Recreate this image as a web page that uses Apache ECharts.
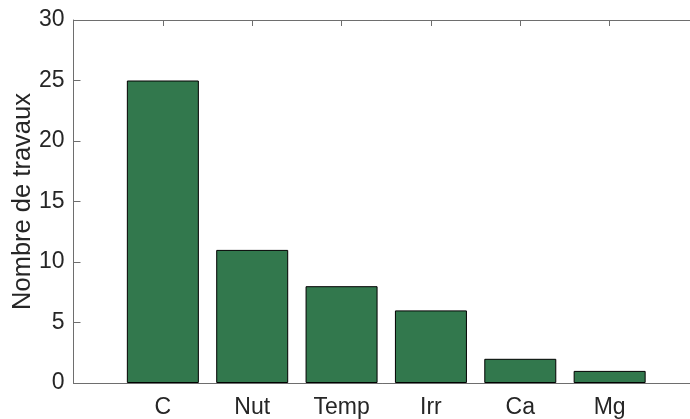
<!DOCTYPE html>
<html>
<head>
<meta charset="utf-8">
<script src="https://cdn.jsdelivr.net/npm/echarts@6/dist/echarts.min.js"></script>
<style>html,body{margin:0;padding:0;background:#fff}#c{width:690px;height:419px}</style>
</head>
<body>
<div id="c"></div>
<script>
var categories = ["C", "Nut", "Temp", "Irr", "Ca", "Mg"];
var values = [25, 11, 8, 6, 2, 1];
var yTicks = [0, 5, 10, 15, 20, 25, 30];
var yName = "Nombre de travaux";

var padded = [""].concat(categories).concat([""]);
var paddedVals = ["-"].concat(values).concat(["-"]);
var font = "Liberation Sans, Arial, sans-serif";
var axisCol = "#6e6e6e";
var textCol = "#262626";

var chart = echarts.init(document.getElementById('c'));
chart.setOption({
  animation: false,
  grid: {left: 73.5, top: 20, width: 625.5, height: 363, containLabel: false, outerBoundsMode: 'none'},
  xAxis: [{
    type: 'category', data: padded, boundaryGap: false, position: 'bottom',
    axisLine: {lineStyle: {color: axisCol, width: 1}},
    axisTick: {show: false},
    axisLabel: {color: textCol, fontSize: 23, fontFamily: font, margin: 13,
      interval: function (i) { return i > 0 && i < padded.length - 1; }},
    splitLine: {show: false}
  }, {
    type: 'category', data: padded, boundaryGap: false, position: 'top',
    axisLine: {lineStyle: {color: axisCol, width: 1}},
    axisTick: {show: true, inside: true, length: 6, lineStyle: {color: axisCol},
      interval: function (i) { return i > 0 && i < padded.length - 1; }},
    axisLabel: {show: false},
    splitLine: {show: false}
  }],
  yAxis: {
    type: 'value', min: yTicks[0], max: yTicks[yTicks.length - 1], interval: 5,
    name: yName, nameLocation: 'middle', nameGap: 38, nameRotate: 90, nameMoveOverlap: false,
    nameTextStyle: {color: textCol, fontSize: 25.5, fontFamily: font},
    axisLine: {show: true, lineStyle: {color: axisCol, width: 1}},
    axisTick: {show: true, inside: true, length: 7, lineStyle: {color: axisCol}},
    axisLabel: {color: textCol, fontSize: 23, fontFamily: font, margin: 9},
    splitLine: {show: false}
  },
  series: [{
    type: 'bar', data: paddedVals, barWidth: 72, xAxisIndex: 0,
    itemStyle: {color: '#32784d', borderColor: '#000', borderWidth: 1}
  }]
});
</script>
</body>
</html>
